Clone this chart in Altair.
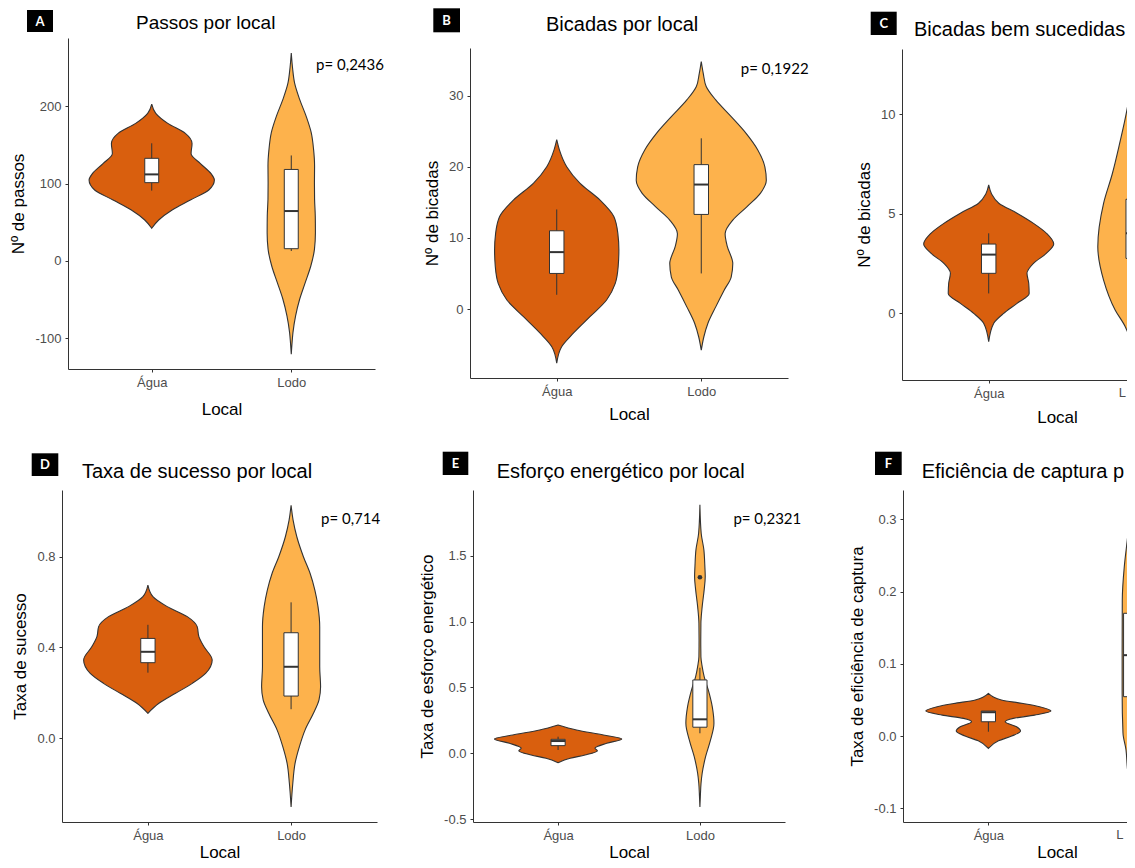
import altair as alt
import pandas as pd

LOCAIS = ["Água", "Lodo"]
FILLS = ["#D95F0E", "#FDB24C"]
INK = "#333333"
BOX_HALF = 0.05

# ---------------- A: Passos por local ----------------
A_agua_y = [42.3, 53, 66, 78.9, 91.8, 104.7, 113, 126, 139, 152, 165, 178, 191, 203]
A_agua_w = [0, 0.05, 0.146, 0.277, 0.409, 0.449, 0.425, 0.349, 0.282, 0.289, 0.241, 0.115, 0.029, 0]
A_lodo_y = [-120.6, -105, -92.6, -71, -49.5, -28, -6.5, 15, 36.6, 58, 80, 101, 123, 144, 166, 187, 209, 230, 250, 269]
A_lodo_w = [0, 0.006, 0.012, 0.031, 0.06, 0.1, 0.14, 0.166, 0.173, 0.172, 0.167, 0.166, 0.167, 0.16, 0.143, 0.107, 0.06, 0.024, 0.009, 0]
A_lo = [91, 12.9]
A_q1 = [101.3, 15.9]
A_med = [112, 64.6]
A_q3 = [132.8, 118.4]
A_hi = [152.2, 136.5]

# ---------------- B: Bicadas por local ----------------
B_agua_y = [-7.6, -5.3, -3.4, -1.08, 1.27, 3.6, 5.95, 8.3, 10.6, 13.0, 15.3, 17.7, 20, 22.4, 23.8]
B_agua_w = [0, 0.034, 0.115, 0.23, 0.345, 0.405, 0.425, 0.43, 0.423, 0.395, 0.30, 0.16, 0.069, 0.018, 0]
B_lodo_y = [-5.8, -3.9, -2.0, 0.3, 2.7, 4.5, 6.4, 8.8, 10.6, 12.5, 14.4, 16.3, 18.1, 20, 22.4, 24.7, 27.05, 29.4, 31.3, 33.1, 34.8]
B_lodo_w = [0, 0.018, 0.046, 0.10, 0.16, 0.207, 0.218, 0.18, 0.165, 0.218, 0.317, 0.41, 0.45, 0.44, 0.39, 0.31, 0.207, 0.10, 0.034, 0.014, 0]
B_lo = [2, 5]
B_q1 = [5, 13.3]
B_med = [8, 17.5]
B_q3 = [11, 20.3]
B_hi = [14, 24]

# ---------------- C: Bicadas bem sucedidas por local ----------------
C_agua_y = [-1.43, -0.5, 0.0, 0.5, 1.0, 1.51, 2.01, 2.51, 3.02, 3.48, 4.02, 4.52, 5.03, 5.53, 6.0, 6.45]
C_agua_w = [0, 0.035, 0.104, 0.196, 0.28, 0.277, 0.265, 0.31, 0.40, 0.45, 0.40, 0.31, 0.196, 0.07, 0.02, 0]
C_lodo_y = [-2.59, -1.5, -0.67, 0.17, 1.67, 3.35, 5.53, 7.0, 8.5, 10.2, 11.5, 12.53]
C_lodo_w = [0, 0.015, 0.055, 0.125, 0.205, 0.245, 0.205, 0.145, 0.095, 0.044, 0.015, 0]
C_lo = [1, None]
C_q1 = [2.01, 2.76]
C_med = [2.95, 4.02]
C_q3 = [3.48, 5.73]
C_hi = [4.02, None]

# ---------------- D: Taxa de sucesso por local ----------------
D_agua_y = [0.11, 0.154, 0.198, 0.242, 0.286, 0.345, 0.404, 0.448, 0.492, 0.536, 0.58, 0.624, 0.675]
D_agua_w = [0, 0.077, 0.193, 0.31, 0.403, 0.449, 0.391, 0.356, 0.344, 0.275, 0.135, 0.035, 0]
D_lodo_y = [-0.303, -0.198, -0.11, -0.037, 0.037, 0.11, 0.169, 0.227, 0.315, 0.40, 0.49, 0.58, 0.653, 0.726, 0.80, 0.888, 0.961, 1.027]
D_lodo_w = [0, 0.012, 0.028, 0.058, 0.098, 0.156, 0.195, 0.206, 0.2, 0.2, 0.2, 0.188, 0.166, 0.133, 0.086, 0.04, 0.014, 0]
D_lo = [0.289, 0.128]
D_q1 = [0.333, 0.186]
D_med = [0.381, 0.315]
D_q3 = [0.44, 0.465]
D_hi = [0.5, 0.599]

# ---------------- E: Esforço energético por local ----------------
E_agua_y = [-0.071, -0.038, -0.013, 0.02, 0.038, 0.076, 0.109, 0.139, 0.177, 0.215]
E_agua_w = [0, 0.085, 0.19, 0.277, 0.26, 0.343, 0.449, 0.32, 0.13, 0]
E_lodo_y = [-0.407, -0.33, -0.228, -0.152, -0.026, 0.101, 0.228, 0.354, 0.481, 0.582, 0.658, 0.734, 0.861, 0.988, 1.114, 1.241, 1.342, 1.418, 1.545, 1.672, 1.887]
E_lodo_w = [0, 0.003, 0.008, 0.016, 0.04, 0.075, 0.099, 0.087, 0.059, 0.03, 0.016, 0.007, 0.006, 0.007, 0.016, 0.03, 0.0376, 0.035, 0.028, 0.009, 0]
E_lo = [0.025, 0.152]
E_q1 = [0.058, 0.198]
E_med = [0.093, 0.258]
E_q3 = [0.106, 0.557]
E_hi = [0.126, 0.65]
E_outlier = [None, 1.337]

# ---------------- F: Eficiência de captura por local ----------------
F_agua_y = [-0.017, -0.0065, 0.0, 0.0069, 0.0129, 0.0198, 0.0245, 0.029, 0.0346, 0.0406, 0.045, 0.05, 0.059]
F_agua_w = [0, 0.071, 0.164, 0.226, 0.198, 0.118, 0.175, 0.325, 0.44, 0.36, 0.244, 0.092, 0]
F_lodo_y = [-0.0999, -0.07, -0.0425, -0.019, 0.004, 0.06, 0.12, 0.188, 0.2345, 0.271, 0.295, 0.3184]
F_lodo_w = [0, 0.01, 0.024, 0.033, 0.054, 0.06, 0.06, 0.059, 0.045, 0.024, 0.01, 0]
F_lo = [0.006, None]
F_q1 = [0.0198, 0.0545]
F_med = [0.033, 0.112]
F_q3 = [0.0346, 0.170]
F_hi = [0.0346, None]

P_TEXT = {"A": "p= 0,2436", "B": "p= 0,1922", "D": "p= 0,714", "E": "p= 0,2321"}

# layout: group size, x/y pixel ranges inside the group, cell box, title position, label box (group coords)
PANELS = [
    dict(key="A", title="Passos por local", tsize=19, ytitle="Nº de passos", size=(313, 331),
         xrange=[6, 313], yrange=[331, 0], yoff=-6, xmax=2.6,
         ydom=[-139.7, 288.4], yticks=[-100, 0, 100, 200], fmt=None, cut=False, xtp=12, xtx=None,
         vio=(A_agua_y, A_agua_w, A_lodo_y, A_lodo_w), box=(A_lo, A_q1, A_med, A_q3, A_hi),
         ppos=(2.178, 253.4), tpos=(74, -8.7), lbox=(-35, -9, -28, -6), cell=(-54, 353, -30, 402)),
    dict(key="B", title="Bicadas por local", tsize=20, ytitle="Nº de bicadas", size=(318, 340),
         xrange=[0, 318], yrange=[340, 10], yoff=0, xmax=2.6,
         ydom=[-9.7, 36.7], yticks=[0, 10, 20, 30], fmt=None, cut=False, xtp=8, xtx=None,
         vio=(B_agua_y, B_agua_w, B_lodo_y, B_lodo_w), box=(B_lo, B_q1, B_med, B_q3, B_hi),
         ppos=(2.273, 33.8), tpos=(76, -7.3), lbox=(-36.7, -10, -29.7, -5.7), cell=(-55, 370, -30, 402)),
    dict(key="C", title="Bicadas bem sucedidas por local", tsize=20, ytitle="Nº de bicadas", size=(225, 342),
         xrange=[0, 225], yrange=[342, 11], yoff=0, xmax=0.4 + 225 / 144.5,
         ydom=[-3.35, 13.28], yticks=[0, 5, 10], fmt=None, cut=True, xtp=9, xtx=155,
         vio=(C_agua_y, C_agua_w, C_lodo_y, C_lodo_w), box=(C_lo, C_q1, C_med, C_q3, C_hi),
         ppos=None, tpos=(12, -2), lbox=(-31.3, -5.3, -26.3, -3), cell=(-62, 225, -30, 402)),
    dict(key="D", title="Taxa de sucesso por local", tsize=20, ytitle="Taxa de sucesso", size=(315, 332),
         xrange=[0, 315], yrange=[332, 0], yoff=0, xmax=2.6,
         ydom=[-0.369, 1.094], yticks=[0, 0.4, 0.8], fmt=".1f", cut=False, xtp=2, xtx=None,
         vio=(D_agua_y, D_agua_w, D_lodo_y, D_lodo_w), box=(D_lo, D_q1, D_med, D_q3, D_hi),
         ppos=(2.209, 0.966), tpos=(20, -11.7), lbox=(-30.3, -3.7, -36.7, -14), cell=(-54, 353, -50, 370)),
    dict(key="E", title="Esforço energético por local", tsize=20, ytitle="Taxa de esforço energético",
         size=(312, 332), xrange=[0, 312], yrange=[332, 0], yoff=0, xmax=2.6,
         ydom=[-0.522, 2.0], yticks=[-0.5, 0, 0.5, 1.0, 1.5], fmt=".1f", cut=False, xtp=2, xtx=None,
         vio=(E_agua_y, E_agua_w, E_lodo_y, E_lodo_w), box=(E_lo, E_q1, E_med, E_q3, E_hi),
         ppos=(2.236, 1.78), tpos=(23.7, -12.3), lbox=(-30.3, -4.7, -38.3, -15), cell=(-58, 367, -50, 370),
         outliers=E_outlier),
    dict(key="F", title="Eficiência de captura por local", tsize=20, ytitle="Taxa de eficiência de captura",
         size=(224, 332), xrange=[0, 224], yrange=[332, 0], yoff=0, xmax=0.4 + 224 / 142.3,
         ydom=[-0.119, 0.3407], yticks=[-0.1, 0, 0.1, 0.2, 0.3], fmt=".1f", cut=True, xtp=2, xtx=154,
         vio=(F_agua_y, F_agua_w, F_lodo_y, F_lodo_w), box=(F_lo, F_q1, F_med, F_q3, F_hi),
         ppos=None, tpos=(18.7, -12.3), lbox=(-28, -1.3, -38.3, -15), cell=(-63, 224, -50, 370)),
]

DUMMY = pd.DataFrame({"d": [0]})
MINUS_FIX = "replace(datum.label, '\u2212', '-')"
ZW = "\u200b"


def build(p):
    w, h = p["size"]
    cut = p["cut"]
    ay, aw, ly, lw = p["vio"]
    vrows = []
    for i, (ys, ws) in enumerate([(ay, aw), (ly, lw)]):
        for yv, wv in zip(ys, ws):
            vrows.append({"local": LOCAIS[i], "pos": i + 1, "y": yv, "w": wv})
    vdf = pd.DataFrame(vrows)

    lo, q1, med, q3, hi = p["box"]
    brows, wrows = [], []
    for i in range(2):
        brows.append({"local": LOCAIS[i], "pos": i + 1, "q1": q1[i], "med": med[i], "q3": q3[i]})
        if lo[i] is not None:
            wrows.append({"local": LOCAIS[i], "pos": i + 1, "lo": lo[i], "hi": hi[i]})
    bdf = pd.DataFrame(brows)
    wdf = pd.DataFrame(wrows)

    xs = alt.Scale(domain=[0.4, p["xmax"]], range=p["xrange"], nice=False, zero=False)
    ys_ = alt.Scale(domain=p["ydom"], range=p["yrange"], nice=False, zero=False)
    xax_kw = dict(title="Local", titlePadding=p["xtp"])
    if cut:
        xax_kw.update(values=[1], labelExpr="'Água'")
    else:
        xax_kw.update(values=[1, 2], labelExpr="datum.value == 1 ? 'Água' : 'Lodo'")
    if p["xtx"] is not None:
        xax_kw["titleX"] = p["xtx"]
    xaxis = alt.Axis(**xax_kw)
    yax_kw = dict(values=p["yticks"], title=p["ytitle"], labelExpr=MINUS_FIX)
    if p["fmt"]:
        yax_kw["format"] = p["fmt"]
    if p["yoff"]:
        yax_kw["offset"] = p["yoff"]
    yaxis = alt.Axis(**yax_kw)

    c = p["cell"]
    frame = alt.Chart(DUMMY).mark_rect(opacity=0).encode(
        x=alt.value(c[0]), x2=alt.value(c[1]), y=alt.value(c[2]), y2=alt.value(c[3]))

    vio = alt.Chart(vdf).transform_calculate(
        xl="datum.pos - datum.w", xr="datum.pos + datum.w"
    ).mark_area(orient="horizontal", interpolate="monotone", stroke=INK, strokeWidth=1.1,
                opacity=1, fillOpacity=1, clip=cut).encode(
        y=alt.Y("y:Q", scale=ys_, axis=yaxis),
        x=alt.X("xl:Q", scale=xs, axis=xaxis, stack=None),
        x2="xr:Q",
        fill=alt.Fill("local:N", scale=alt.Scale(domain=LOCAIS, range=FILLS), legend=None),
        detail="local:N",
    )

    layers = [frame, vio]
    if len(wdf):
        whisk = alt.Chart(wdf).mark_rule(color=INK, strokeWidth=1, clip=cut).encode(
            x=alt.X("pos:Q", scale=xs, axis=xaxis),
            y=alt.Y("lo:Q", scale=ys_, axis=yaxis),
            y2="hi:Q",
        )
        layers.append(whisk)

    box = alt.Chart(bdf).transform_calculate(
        bl=f"datum.pos - {BOX_HALF}", br=f"datum.pos + {BOX_HALF}"
    ).mark_rect(fill="white", stroke=INK, strokeWidth=1, clip=cut).encode(
        x=alt.X("bl:Q", scale=xs, axis=xaxis), x2="br:Q",
        y=alt.Y("q1:Q", scale=ys_, axis=yaxis), y2="q3:Q",
    )
    medl = alt.Chart(bdf).transform_calculate(
        bl=f"datum.pos - {BOX_HALF}", br=f"datum.pos + {BOX_HALF}"
    ).mark_rule(color=INK, strokeWidth=2, clip=cut).encode(
        x=alt.X("bl:Q", scale=xs, axis=xaxis), x2="br:Q",
        y=alt.Y("med:Q", scale=ys_, axis=yaxis),
    )
    layers += [box, medl]

    if p.get("outliers"):
        orows = [{"pos": i + 1, "v": v} for i, v in enumerate(p["outliers"]) if v is not None]
        outl = alt.Chart(pd.DataFrame(orows)).mark_circle(color=INK, size=22, opacity=1).encode(
            x=alt.X("pos:Q", scale=xs, axis=xaxis),
            y=alt.Y("v:Q", scale=ys_, axis=yaxis),
        )
        layers.append(outl)

    if p["ppos"]:
        pdf = pd.DataFrame({"px": [p["ppos"][0]], "py": [p["ppos"][1]], "label": [P_TEXT[p["key"]]]})
        ptxt = alt.Chart(pdf).mark_text(align="left", baseline="middle", font="Lato",
                                        fontSize=15, color="black").encode(
            x=alt.X("px:Q", scale=xs, axis=xaxis),
            y=alt.Y("py:Q", scale=ys_, axis=yaxis),
            text="label:N",
        )
        layers.append(ptxt)

    if cut:
        # the second category label runs past the right edge of the figure and is cut there
        ldf = pd.DataFrame({"px": [2], "label": ["Lodo"]})
        ltx = alt.Chart(ldf).mark_text(align="left", baseline="top", dx=-14.5, font="Liberation Sans",
                                       fontSize=13, color="#4D4D4D", limit=9, ellipsis=ZW).encode(
            x=alt.X("px:Q", scale=xs, axis=xaxis),
            y=alt.value(h + 7),
            text="label:N",
        )
        layers.append(ltx)

    lb = p["lbox"]
    lbox = alt.Chart(DUMMY).mark_rect(color="black").encode(
        x=alt.value(lb[0]), x2=alt.value(lb[1]), y=alt.value(lb[2]), y2=alt.value(lb[3]))
    ltxt = alt.Chart(DUMMY).mark_text(align="center", baseline="middle", font="Lato",
                                      fontWeight="bold", fontSize=13, color="white").encode(
        x=alt.value((lb[0] + lb[1]) / 2), y=alt.value((lb[2] + lb[3]) / 2 + 0.5),
        text=alt.value(p["key"]))
    tkw = dict(align="left", baseline="alphabetic", font="Liberation Sans",
               fontSize=p["tsize"], color="black")
    if cut:
        tkw.update(limit=c[1] - p["tpos"][0], ellipsis=ZW)
    ttl = alt.Chart(DUMMY).mark_text(**tkw).encode(
        x=alt.value(p["tpos"][0]), y=alt.value(p["tpos"][1]), text=alt.value(p["title"]))
    layers += [lbox, ltxt, ttl]

    return alt.layer(*layers).properties(width=w, height=h)


charts = [build(p) for p in PANELS]
row1 = alt.hconcat(*charts[:3], spacing=0)
row2 = alt.hconcat(*charts[3:], spacing=0)

chart = alt.vconcat(row1, row2, spacing=0).properties(
    padding={"left": 0, "top": 0, "right": 0, "bottom": 0}
).configure_view(
    strokeWidth=0
).configure_axis(
    grid=False,
    domainColor=INK, domainWidth=1,
    tickColor=INK, tickSize=3, tickWidth=1,
    labelColor="#4D4D4D", labelFont="Liberation Sans", labelFontSize=13, labelPadding=4,
    titleFont="Liberation Sans", titleFontSize=17, titleFontWeight="normal", titleColor="black",
).configure_axisY(
    titlePadding=7
)

chart.save("out.html", embed_options={"renderer": "svg", "actions": False})
